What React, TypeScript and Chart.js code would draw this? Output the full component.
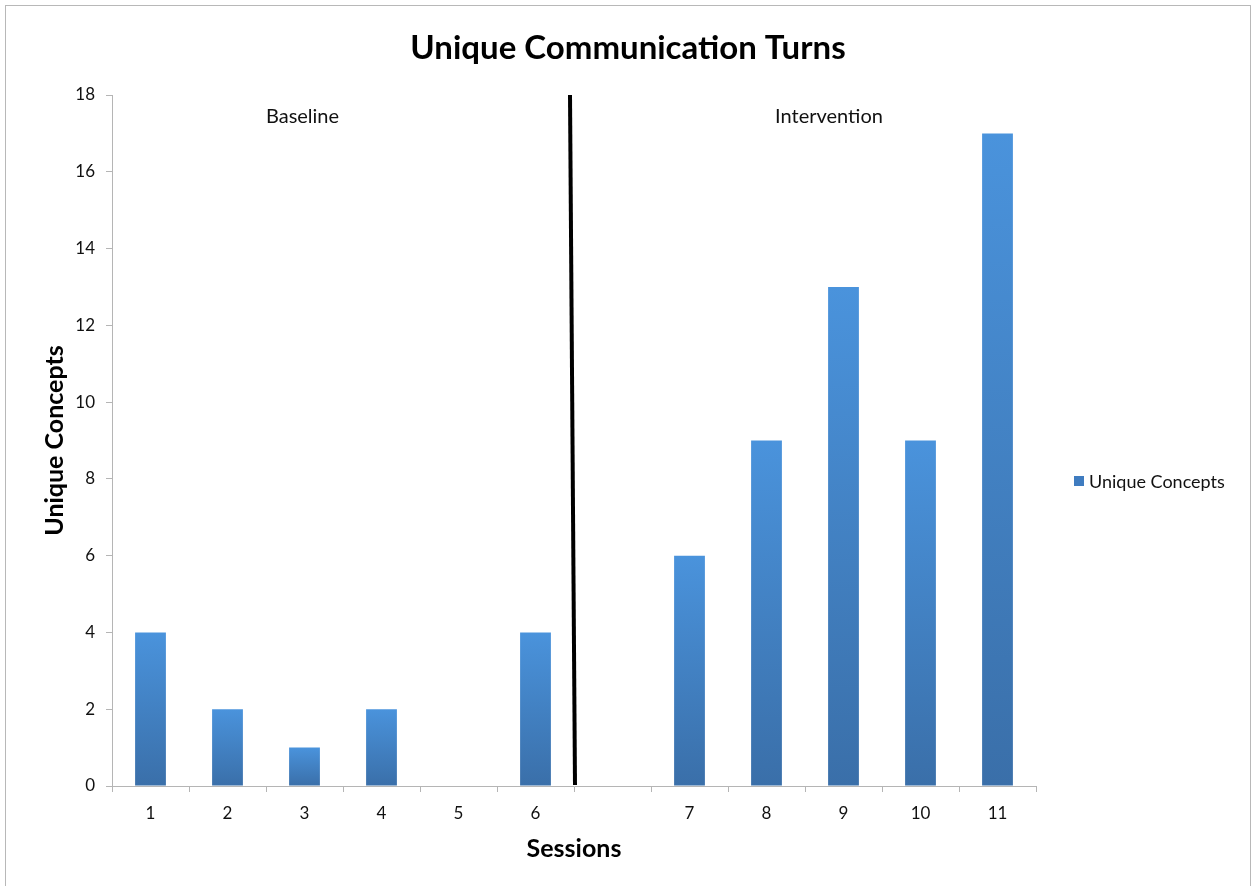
import React, { useEffect, useRef } from "react";
import { Chart, registerables } from "chart.js";

Chart.register(...registerables);

const categories = ["1", "2", "3", "4", "5", "6", "", "7", "8", "9", "10", "11"];
const uniqueConcepts: (number | null)[] = [4, 2, 1, 2, 0, 4, null, 6, 9, 13, 9, 17];
const yTicks = [0, 2, 4, 6, 8, 10, 12, 14, 16, 18];
const seriesName = "Unique Concepts";
const chartTitle = "Unique Communication Turns";
const phaseLabels = ["Baseline", "Intervention"];

const FONT = "Lato, 'Open Sans', sans-serif";

const overlayPlugin = {
  id: "overlay",
  beforeDatasetsDraw(chart: any) {
    const { ctx, scales } = chart;
    const x = scales.x;
    const y = scales.y;
    ctx.save();
    ctx.fillStyle = "#111";
    ctx.font = `20px ${FONT}`;
    ctx.textAlign = "center";
    ctx.textBaseline = "middle";
    const yLab = y.top + 22;
    ctx.fillText(phaseLabels[0], x.getPixelForValue(2) - 2, yLab);
    ctx.fillText(phaseLabels[1], (x.getPixelForValue(8) + x.getPixelForValue(9)) / 2 + 24, yLab);
    ctx.restore();
  },
  afterDatasetsDraw(chart: any) {
    const { ctx, scales } = chart;
    const x = scales.x;
    const y = scales.y;
    const b = (x.getPixelForValue(5) + x.getPixelForValue(6)) / 2;
    ctx.save();
    ctx.strokeStyle = "#000";
    ctx.lineWidth = 4;
    ctx.beginPath();
    ctx.moveTo(b - 4, y.top);
    ctx.lineTo(b + 1, y.bottom - 1);
    ctx.stroke();
    // title
    ctx.fillStyle = "#000";
    ctx.font = `bold 33px ${FONT}`;
    ctx.textAlign = "center";
    ctx.textBaseline = "middle";
    ctx.fillText(chartTitle, 628, 48);
    // legend
    const lx = 1074;
    const ly = 481;
    ctx.fillStyle = "#3f7cc0";
    ctx.fillRect(lx, ly - 5, 10, 10);
    ctx.fillStyle = "#111";
    ctx.font = `18px ${FONT}`;
    ctx.textAlign = "left";
    ctx.fillText(seriesName, lx + 15, ly + 1);
    ctx.restore();
  },
};

export default function App() {
  const ref = useRef<HTMLCanvasElement | null>(null);

  useEffect(() => {
    if (!ref.current) return;
    const chart = new Chart(ref.current, {
      type: "bar",
      data: {
        labels: categories,
        datasets: [
          {
            label: seriesName,
            data: uniqueConcepts,
            backgroundColor: (c: any) => {
              const ch = c.chart;
              const { chartArea, scales } = ch;
              if (!chartArea || !scales?.y) return "#4285cc";
              const v = c.raw ?? 0;
              const top = scales.y.getPixelForValue(v);
              const bottom = scales.y.getPixelForValue(0);
              if (!(bottom - top > 0.5)) return "#4285cc";
              const g = ch.ctx.createLinearGradient(0, top, 0, bottom);
              g.addColorStop(0, "#4a93dc");
              g.addColorStop(1, "#3a6fa9");
              return g;
            },
            borderWidth: 0,
            barPercentage: 0.4,
            categoryPercentage: 1,
          },
        ],
      },
      options: {
        animation: false,
        responsive: false,
        maintainAspectRatio: false,
        layout: { padding: { top: 95, right: 218, left: 0, bottom: 0 } },
        plugins: {
          legend: { display: false },
          title: { display: false },
          tooltip: { enabled: false },
        },
        scales: {
          x: {
            afterFit: (s: any) => {
              s.height = 100;
            },
            grid: {
              offset: true,
              drawOnChartArea: false,
              drawTicks: true,
              tickLength: 6,
              color: "#b5b5b5",
            },
            border: { color: "#b5b5b5", width: 1 },
            ticks: {
              color: "#111",
              font: { family: FONT, size: 17 },
              padding: 11,
              maxRotation: 0,
              autoSkip: false,
            },
            title: {
              display: true,
              text: "Sessions",
              color: "#000",
              font: { family: FONT, size: 25, weight: "bold" },
              padding: { top: 0, bottom: 22 },
            },
          },
          y: {
            min: 0,
            max: 18,
            afterFit: (s: any) => {
              s.width = 112;
            },
            afterBuildTicks: (s: any) => {
              s.ticks = yTicks.map((v) => ({ value: v }));
            },
            grid: {
              drawOnChartArea: false,
              drawTicks: true,
              tickLength: 6,
              color: "#b5b5b5",
            },
            border: { color: "#b5b5b5", width: 1 },
            ticks: {
              color: "#111",
              font: { family: FONT, size: 17 },
              padding: 11,
            },
            title: {
              display: true,
              text: seriesName,
              color: "#000",
              font: { family: FONT, size: 25, weight: "bold" },
              padding: { top: 40, bottom: 0 },
            },
          },
        },
      },
      plugins: [overlayPlugin],
    });
    return () => chart.destroy();
  }, []);

  return (
    <div
      style={{
        position: "fixed",
        left: 0,
        top: 0,
        width: 1254,
        height: 886,
        background: "#fff",
        overflow: "hidden",
      }}
    >
      <div
        style={{
          position: "absolute",
          left: 5,
          top: 5,
          width: 1244,
          height: 900,
          border: "1.5px solid #b8b8b8",
        }}
      />
      <canvas
        ref={ref}
        width={1254}
        height={886}
        style={{ position: "absolute", left: 0, top: 0, width: 1254, height: 886 }}
      />
    </div>
  );
}
